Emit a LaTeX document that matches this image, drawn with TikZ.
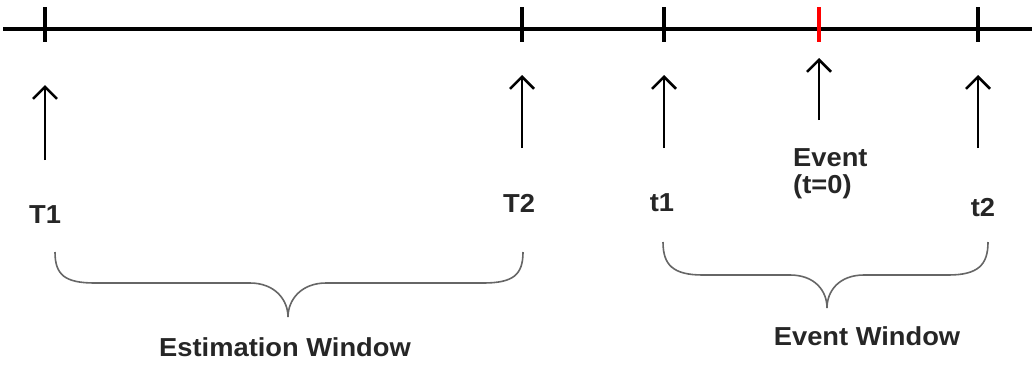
\documentclass[tikz,border=0pt]{standalone}
\usepackage{fontspec}
\setmainfont{Liberation Sans}
\usetikzlibrary{arrows.meta}
\begin{document}
\begin{tikzpicture}[x=1pt,y=-1pt,
  lbl/.style={font=\fontsize{26}{30}\selectfont\bfseries, text=black!85, inner sep=0pt, xscale=1.05},
  tickmark/.style={line width=4pt},
  uparrow/.style={line width=2.5pt, -{Straight Barb[length=12pt,width=24pt,line width=2.5pt]}},
  bracepath/.style={line width=1.6pt, draw=black!60}]
\useasboundingbox (0,0) rectangle (1032,365);
% time line
\coordinate (L) at (3,29);
\coordinate (R) at (1032,29);
\draw[line width=4.5pt] (L) -- (R);
% ticks
\coordinate (k1a) at (45,7);  \coordinate (k1b) at (45,42);
\coordinate (k2a) at (522,7); \coordinate (k2b) at (522,42);
\coordinate (k3a) at (664,7); \coordinate (k3b) at (664,42);
\coordinate (k4a) at (819,7); \coordinate (k4b) at (819,42);
\coordinate (k5a) at (978,7); \coordinate (k5b) at (978,42);
\draw[tickmark] (k1a) -- (k1b);
\draw[tickmark] (k2a) -- (k2b);
\draw[tickmark] (k3a) -- (k3b);
\draw[tickmark, red] (k4a) -- (k4b);
\draw[tickmark] (k5a) -- (k5b);
% arrows
\coordinate (a1s) at (45,160);  \coordinate (a1e) at (45,85);
\coordinate (a2s) at (522,148); \coordinate (a2e) at (522,75);
\coordinate (a3s) at (664,148); \coordinate (a3e) at (664,75);
\coordinate (a4s) at (819,120); \coordinate (a4e) at (819,58);
\coordinate (a5s) at (978,148); \coordinate (a5e) at (978,75);
\draw[uparrow] (a1s) -- (a1e);
\draw[uparrow] (a2s) -- (a2e);
\draw[uparrow] (a3s) -- (a3e);
\draw[uparrow] (a4s) -- (a4e);
\draw[uparrow] (a5s) -- (a5e);
% labels
\node[lbl] (T1) at (45,215) {T1};
\node[lbl] (T2) at (519,203) {T2};
\node[lbl] (t1) at (662,203) {t1};
\node[lbl, anchor=west] (ev) at (793,158) {Event};
\node[lbl, anchor=west] (t0) at (793,187) {(t=0)};
\node[lbl] (t2) at (983,208) {t2};
% braces
\draw[bracepath] (55,252) .. controls (55,275) and (65,283) .. (95,283) -- (250,283)
  .. controls (275,283) and (288,300) .. (288,317)
  .. controls (288,300) and (301,283) .. (326,283) -- (483,283)
  .. controls (513,283) and (523,275) .. (523,252);
\draw[bracepath] (663,242) .. controls (663,265) and (673,275) .. (703,275) -- (790,275)
  .. controls (815,275) and (827,291) .. (827,308)
  .. controls (827,291) and (839,275) .. (864,275) -- (948,275)
  .. controls (978,275) and (988,265) .. (988,242);
\node[lbl] (est) at (285,347) {Estimation Window};
\node[lbl] (evw) at (867,336) {Event Window};
\end{tikzpicture}
\end{document}
